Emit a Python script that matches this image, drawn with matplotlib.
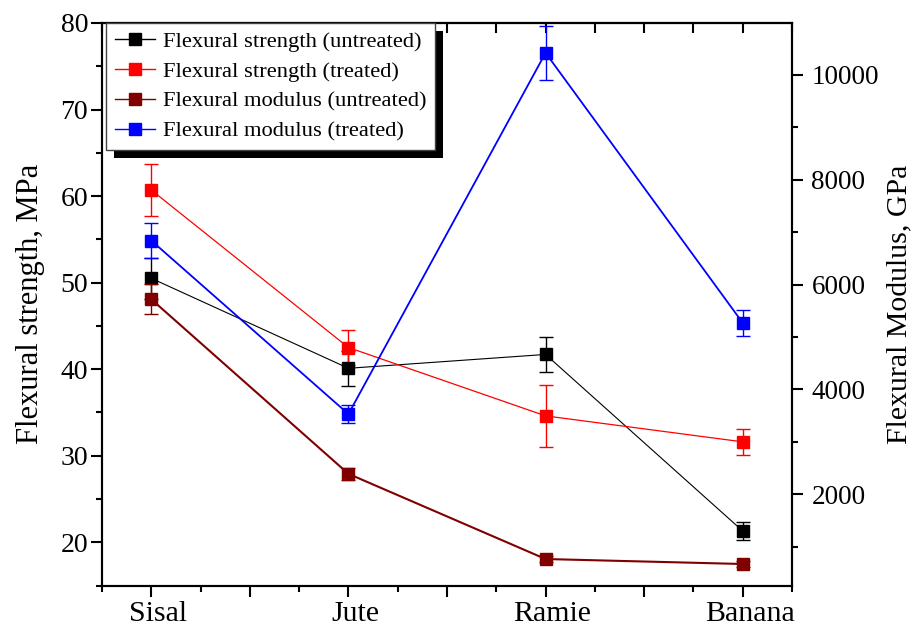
import matplotlib
matplotlib.use("Agg")
import matplotlib.pyplot as plt
import matplotlib.patheffects as pe
import matplotlib.transforms as mtransforms
from matplotlib.lines import Line2D
import numpy as np

# fibre types on the x axis
fibres = ["Sisal", "Jute", "Ramie", "Banana"]

# flexural strength, MPa (left axis)
strength_untreated = [50.5, 40.1, 41.7, 21.3]
strength_untreated_err = [2.4, 2.0, 2.0, 1.0]
strength_treated = [60.7, 42.5, 34.6, 31.6]
strength_treated_err = [3.0, 2.0, 3.6, 1.5]

# flexural modulus, GPa (right axis)
modulus_untreated = [5720, 2390, 765, 670]
modulus_untreated_err = [290, 110, 60, 60]
modulus_treated = [6840, 3530, 10420, 5270]
modulus_treated_err = [340, 170, 520, 250]

labels = ['Flexural strength (untreated)', 'Flexural strength (treated)',
          'Flexural modulus (untreated)', 'Flexural modulus (treated)']
colors = ['black', '#ff0000', '#800000', '#0000ff']

plt.rcParams['font.family'] = ['Liberation Serif', 'DejaVu Serif']

fig = plt.figure(figsize=(9.12, 6.36), dpi=100)
ax = fig.add_axes([102 / 912, 1 - 585.5 / 636, 690 / 912, 562.5 / 636])
ax2 = ax.twinx()

x = np.arange(1, len(fibres) + 1)

style = dict(marker='s', markersize=9, capsize=5, elinewidth=1, capthick=1)

ax.errorbar(x, strength_untreated, yerr=strength_untreated_err, color=colors[0],
            lw=0.8, zorder=3, **style)
ax.errorbar(x, strength_treated, yerr=strength_treated_err, color=colors[1],
            lw=0.9, zorder=3, **style)
ax2.errorbar(x, modulus_untreated, yerr=modulus_untreated_err, color=colors[2],
             lw=1.5, **style)
ax2.errorbar(x, modulus_treated, yerr=modulus_treated_err, color=colors[3],
             lw=1.3, **style)

ax.set_xlim(0.75, 4.25)
ax.set_ylim(15, 80)
ax2.set_ylim(260, 10990)

# x ticks: long every 0.5, short every 0.25, labels only on the fibres
major = np.arange(1, 4.01, 0.5)
ax.set_xticks(major)
ax.set_xticklabels([fibres[int(m) - 1] if m == int(m) else '' for m in major], fontsize=21.5)
ax.set_xticks(np.arange(0.75, 4.3, 0.5), minor=True)
ax.tick_params(axis='x', which='major', direction='out', length=8, width=1.5, pad=3)
ax.tick_params(axis='x', which='minor', direction='out', length=4.5, width=1.5)
shift = mtransforms.ScaledTranslation(5 / 72, 0, fig.dpi_scale_trans)
for lab in ax.get_xticklabels():
    lab.set_transform(lab.get_transform() + shift)

top = ax.secondary_xaxis('top')
top.set_xticks(major)
top.set_xticks(np.arange(0.75, 4.3, 0.5), minor=True)
top.tick_params(axis='x', which='both', direction='in', length=7, width=1.5, labeltop=False)
top.spines['top'].set_linewidth(1.5)

ax.set_yticks([20, 30, 40, 50, 60, 70, 80])
ax.set_yticks(np.arange(15, 80, 10), minor=True)
ax.tick_params(axis='y', which='major', direction='out', length=8, width=1.5, labelsize=20, pad=2)
ax.tick_params(axis='y', which='minor', direction='out', length=4.5, width=1.5)

ax2.set_yticks([2000, 4000, 6000, 8000, 10000])
ax2.set_yticks([1000, 3000, 5000, 7000, 9000], minor=True)
ax2.tick_params(axis='y', which='major', direction='out', length=8, width=1.5, labelsize=19.5, pad=6)
ax2.tick_params(axis='y', which='minor', direction='out', length=4.5, width=1.5)

for a in (ax, ax2):
    for s in a.spines.values():
        s.set_linewidth(1.5)

ax.set_ylabel('Flexural strength, MPa', fontsize=22, labelpad=11)
ax2.set_ylabel('Flexural Modulus, GPa', fontsize=21.5, labelpad=5)

handles = [Line2D([], [], color=c, lw=1, marker='s', markersize=9) for c in colors]
leg = ax2.legend(handles=handles, labels=labels, loc='upper left',
                 bbox_to_anchor=(4 / 690, 1.0), borderaxespad=0, fontsize=16.2,
                 frameon=True, fancybox=False, edgecolor='#444444', framealpha=1,
                 handlelength=1.8, handletextpad=0.35, labelspacing=0.4,
                 borderpad=0.38)
leg.get_frame().set_linewidth(1.0)
leg.get_frame().set_path_effects([pe.SimplePatchShadow(offset=(6, -6), shadow_rgbFace='black', alpha=1),
                                  pe.Normal()])

fig.savefig('out.png', dpi=100)
